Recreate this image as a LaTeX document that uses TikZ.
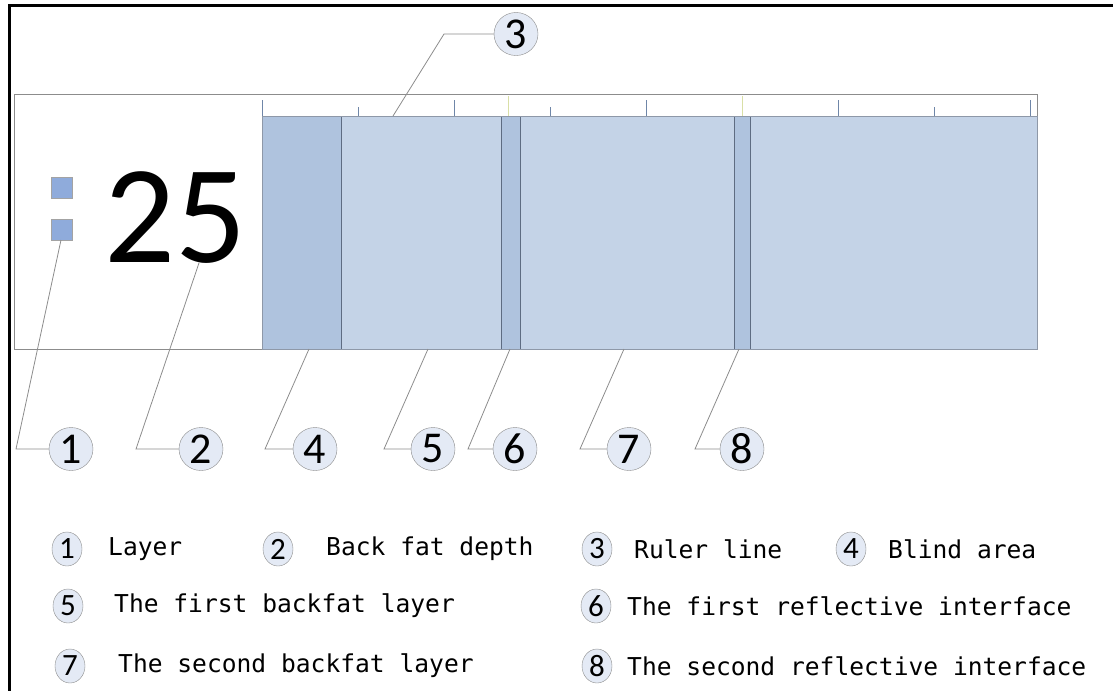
\documentclass[tikz,border=0pt]{standalone}
\usepackage{fontspec}
\usepackage{xcolor}
\newfontfamily\digitfont{Carlito}
\newfontfamily\monofont{DejaVu Sans Mono}
\definecolor{mgray}{HTML}{8C8C8C}
\definecolor{mfat}{HTML}{C4D3E7}
\definecolor{mdark}{HTML}{AFC3DE}
\definecolor{medge}{HTML}{5E6C82}
\definecolor{mtick}{HTML}{6F86A8}
\definecolor{myel}{HTML}{D9DFA6}
\definecolor{mbub}{HTML}{E4EAF5}
\definecolor{msq}{HTML}{8FABDB}
\usepackage{tikz}
\usetikzlibrary{shapes.geometric}

\tikzset{
  bubble/.style={ellipse, draw=mgray, fill=mbub, inner sep=0pt, minimum width=44, minimum height=43, font=\digitfont\fontsize{44}{44}\selectfont},
  keybubble/.style={ellipse, draw=mgray, fill=mbub, inner sep=0pt, minimum width=30, minimum height=34, font=\digitfont\fontsize{31}{31}\selectfont},
  keytext/.style={anchor=west, inner sep=0pt, font=\monofont\fontsize{24.6}{24.6}\selectfont},
  leader/.style={draw=mgray, line width=0.8},
  strip/.style={fill=mdark, draw=medge, line width=0.8},
}

\begin{document}
\begin{tikzpicture}[x=1pt, y=-1pt]
            \useasboundingbox (0,0) rectangle (1113,691);

            \draw[line width=3] (1113,5.5) -- (9.5,5.5) -- (9.5,691);

            % screen
            \draw[mgray, line width=1] (14,94) rectangle (1037,349);
            \fill[mfat] (262,116) rectangle (1037,349);
            \draw[strip] (262,116) rectangle (341,349);
            \draw[strip] (501,116) rectangle (520,349);
            \draw[strip] (734,116) rectangle (750,349);
            \draw[medge!70, line width=0.8] (262,116) rectangle (1037,349);

            \foreach \x in {262,454,646,838,1030}
              \draw[mtick, line width=0.8] (\x,100) -- (\x,116);
            \foreach \x in {358,550,934}
              \draw[mtick, line width=0.8] (\x,107) -- (\x,116);
            \foreach \x in {508,742}
              \draw[myel, line width=0.8] (\x,96) -- (\x,116);

            \draw[fill=msq, draw=mgray!80] (51,177) rectangle (72,198);
            \draw[fill=msq, draw=mgray!80] (51,219) rectangle (72,240);

            \node[anchor=base, inner sep=0pt, font=\digitfont\fontsize{140}{140}\selectfont] (depth) at (175,262) {25};

            % callouts
            \node[bubble] (c1) at (71,449) {1};
            \node[bubble] (c2) at (201,449) {2};
            \node[bubble] (c3) at (516,34) {3};
            \node[bubble] (c4) at (315,449) {4};
            \node[bubble] (c5) at (433,449) {5};
            \node[bubble] (c6) at (515,449) {6};
            \node[bubble] (c7) at (629,449) {7};
            \node[bubble] (c8) at (742,449) {8};

            \coordinate (k1) at (16,449);   \coordinate (t1) at (61,240);
            \coordinate (k2) at (136,449);  \coordinate (t2) at (199,263);
            \coordinate (k3) at (444,34);   \coordinate (t3) at (393,116);
            \coordinate (k4) at (265,449);  \coordinate (t4) at (309,349);
            \coordinate (k5) at (384,449);  \coordinate (t5) at (428,349);
            \coordinate (k6) at (468,449);  \coordinate (t6) at (510,349);
            \coordinate (k7) at (580,449);  \coordinate (t7) at (624,349);
            \coordinate (k8) at (695,449);  \coordinate (t8) at (739,349);

            \foreach \i in {1,...,8}
              \draw[leader] (c\i.west) -- (k\i) -- (t\i);

            % key
            \node[keybubble] (m1) at (67,549) {1};
            \node[keytext] (l1) at (108,549) {Layer};
            \node[keybubble] (m2) at (278,549) {2};
            \node[keytext] (l2) at (326,549) {Back fat depth};
            \node[keybubble] (m3) at (597,549) {3};
            \node[keytext] (l3) at (634,549) {Ruler line};
            \node[keybubble] (m4) at (851,549) {4};
            \node[keytext] (l4) at (888,549) {Blind area};

            \node[keybubble] (m5) at (68,606) {5};
            \node[keytext] (l5) at (114,606) {The first backfat layer};
            \node[keybubble] (m6) at (596,606) {6};
            \node[keytext] (l6) at (627,606) {The first reflective interface};

            \node[keybubble] (m7) at (70,666) {7};
            \node[keytext] (l7) at (118,666) {The second backfat layer};
            \node[keybubble] (m8) at (597,666) {8};
            \node[keytext] (l8) at (627,666) {The second reflective interface};

          \end{tikzpicture}
\end{document}
